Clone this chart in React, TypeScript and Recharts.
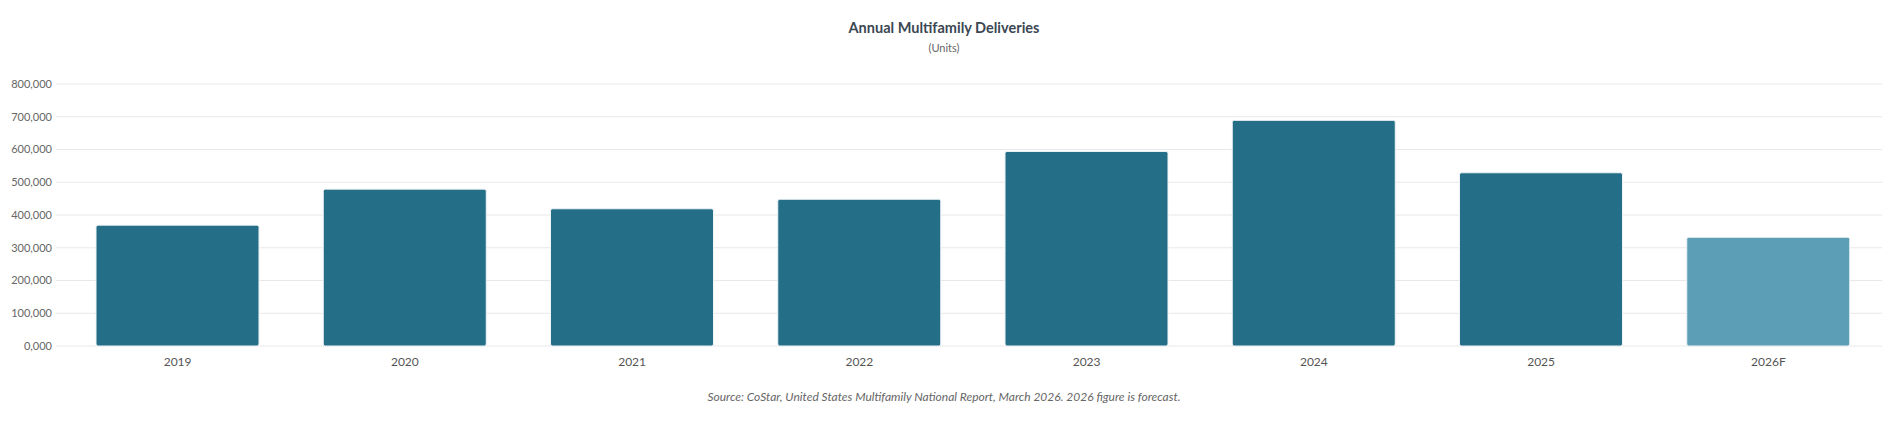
import { Bar, BarChart, CartesianGrid, Cell, XAxis, YAxis } from "recharts";

document.body.style.margin = "0";

const years = ["2019", "2020", "2021", "2022", "2023", "2024", "2025", "2026F"];
const deliveries = [369000, 479000, 419000, 448000, 594000, 689000, 529000, 332000];
const forecast = [false, false, false, false, false, false, false, true];
const yTicks = [0, 100000, 200000, 300000, 400000, 500000, 600000, 700000, 800000];

const font = "Lato, 'Open Sans', sans-serif";

const data = years.map((year, i) => ({
  year,
  units: deliveries[i],
  forecast: forecast[i],
}));

function formatUnits(value: number) {
  return value === 0 ? "0,000" : value.toLocaleString("en-US");
}

export default function App() {
  return (
    <div style={{ position: "relative", width: 1888, height: 423, background: "#fff", fontFamily: font }}>
      <div
        style={{
          position: "absolute",
          top: 19,
          left: 0,
          width: 1888,
          textAlign: "center",
          fontSize: 14.5,
          fontWeight: 700,
          color: "#3b4753",
        }}
      >
        Annual Multifamily Deliveries
      </div>
      <div
        style={{
          position: "absolute",
          top: 41,
          left: 0,
          width: 1888,
          textAlign: "center",
          fontSize: 11,
          color: "#666",
        }}
      >
        (Units)
      </div>
      <BarChart
        width={1888}
        height={423}
        data={data}
        margin={{ top: 84, right: 6, left: 0, bottom: 57 }}
      >
        <CartesianGrid stroke="#e8e8e8" vertical={false} />
        <XAxis
          dataKey="year"
          axisLine={false}
          tickLine={false}
          tickSize={0}
          tickMargin={11}
          padding={{ left: 8, right: 0 }}
          tick={{ fontSize: 12, fill: "#555", fontFamily: font }}
          height={20}
        />
        <YAxis
          domain={[0, 800000]}
          ticks={yTicks}
          tickFormatter={formatUnits}
          axisLine={false}
          tickLine={false}
          tickSize={0}
          tickMargin={4}
          width={56}
          interval={0}
          tick={{ fontSize: 11, fill: "#666", fontFamily: font }}
        />
        <Bar
          dataKey="units"
          barSize={163}
          radius={2}
          stroke="#eef3f5"
          strokeWidth={1}
          isAnimationActive={false}
        >
          {data.map((d) => (
            <Cell key={d.year} fill={d.forecast ? "#5d9eb7" : "#246e87"} />
          ))}
        </Bar>
      </BarChart>
      <div
        style={{
          position: "absolute",
          top: 389,
          left: 0,
          width: 1888,
          textAlign: "center",
          fontSize: 12,
          fontStyle: "italic",
          color: "#666",
        }}
      >
        Source: CoStar, United States Multifamily National Report, March 2026. 2026 figure is forecast.
      </div>
    </div>
  );
}
